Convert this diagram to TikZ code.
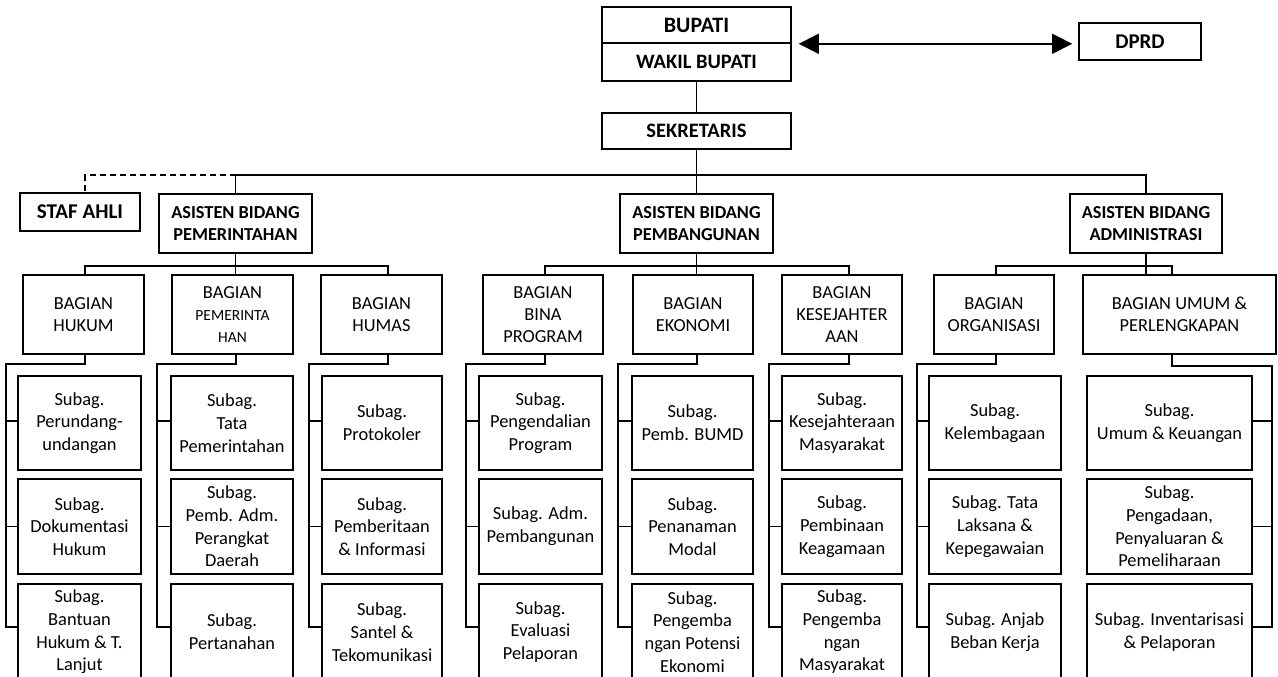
\documentclass[tikz,border=0pt]{standalone}
\usepackage{fontspec}
\setmainfont{Carlito}
\usetikzlibrary{arrows.meta}
\tikzset{
  ln/.style={line width=1.6pt},
  box/.style={draw, line width=1.6pt, inner sep=0pt, align=center},
  topbox/.style={box, font=\bfseries\fontsize{20.5}{24}\selectfont},
  asis/.style={box, font=\bfseries\fontsize{18.3}{21.7}\selectfont, minimum width=153pt, minimum height=59pt},
  bag/.style={box, font=\fontsize{18.4}{22}\selectfont, minimum height=79pt},
  sub/.style={box, font=\fontsize{18.4}{22.7}\selectfont},
  sz/.style 2 args={minimum width=#1pt, minimum height=#2pt},
  dsh/.style={ln, dash pattern=on 6pt off 4pt},
  tri/.style={ln, {Triangle[length=20pt,width=20pt]}-{Triangle[length=20pt,width=20pt]}},
}
\newcommand{\mycolconn}[4]{%
  \draw[ln] ([xshift=#2]#1.south) -- ++(0,9) -| ([xshift=#4,yshift=5pt]#3c.west) -- ([yshift=5pt]#3c.west);
  \draw[ln] ([yshift=2pt]#3a.west) -- ++(#4,0);
  \draw[ln] (#3b.west) -- ++(#4,0);
}
\begin{document}
\begin{tikzpicture}[x=1pt,y=-1pt]
\useasboundingbox (0,0) rectangle (1278,677);
\clip (0,0) rectangle (1278,677);

% top level
\node[topbox, sz={189}{36}, font=\bfseries\fontsize{22}{26}\selectfont] (bupati) at (696.5,25) {BUPATI};
\node[topbox, sz={189}{38}] (wakil) at (696.5,62) {WAKIL BUPATI};
\node[topbox, sz={122}{37}, font=\bfseries\fontsize{21}{25}\selectfont] (dprd) at (1140,41.5) {DPRD};
\node[topbox, sz={189}{36}] (sek) at (696.5,131) {SEKRETARIS};
\node[topbox, sz={120}{38}, font=\bfseries\fontsize{21}{25}\selectfont] (staf) at (80,212) {STAF AHLI};

\node[asis] (asp) at (235.5,223.5) {ASISTEN BIDANG\\PEMERINTAHAN};
\node[asis] (asb) at (696.5,223.5) {ASISTEN BIDANG\\PEMBANGUNAN};
\node[asis, minimum width=152pt] (asa) at (1146,223.5) {ASISTEN BIDANG\\ADMINISTRASI};

% bagian
\node[bag, minimum width=121pt] (bh) at (83.5,314.5) {BAGIAN\\HUKUM};
\node[bag, minimum width=121pt] (bp) at (232.5,314.5) {BAGIAN\\{\fontsize{15.5}{19.5}\selectfont PEMERINTA}\\{\fontsize{15.5}{19.5}\selectfont HAN}};
\node[bag, minimum width=121pt] (bhm) at (381.5,314.5) {BAGIAN\\HUMAS};
\node[bag, minimum width=120pt] (bb) at (543,314.5) {BAGIAN\\BINA\\PROGRAM};
\node[bag, minimum width=120pt] (be) at (693,314.5) {BAGIAN\\EKONOMI};
\node[bag, minimum width=120pt] (bk) at (842,314.5) {BAGIAN\\KESEJAHTER\\AAN};
\node[bag, minimum width=120pt] (bo) at (994,314.5) {BAGIAN\\ORGANISASI};
\node[bag, minimum width=193pt] (bu) at (1179.5,314.5) {BAGIAN UMUM \&\\PERLENGKAPAN};

% subag column 1
\node[sub, sz={123}{94}] (c1a) at (79.5,423) {Subag.\\Perundang-\\undangan};
\node[sub, sz={123}{95}] (c1b) at (79.5,526.5) {Subag.\\Dokumentasi\\Hukum};
\node[sub, sz={123}{96}] (c1c) at (79.5,632) {Subag.\\Bantuan\\Hukum \& T.\\Lanjut};
% column 2
\node[sub, sz={122}{94}] (c2a) at (232,423) {Subag.\\Tata\\Pemerintahan};
\node[sub, sz={122}{95}] (c2b) at (232,526.5) {Subag.\\Pemb. Adm.\\Perangkat\\Daerah};
\node[sub, sz={122}{96}] (c2c) at (232,632) {Subag.\\Pertanahan};
% column 3
\node[sub, sz={120}{94}] (c3a) at (382,423) {Subag.\\Protokoler};
\node[sub, sz={120}{95}] (c3b) at (382,526.5) {Subag.\\Pemberitaan\\\& Informasi};
\node[sub, sz={120}{96}] (c3c) at (382,632) {Subag.\\Santel \&\\Tekomunikasi};
% column 4
\node[sub, sz={123}{94}] (c4a) at (540.5,423) {Subag.\\Pengendalian\\Program};
\node[sub, sz={123}{95}] (c4b) at (540.5,526.5) {Subag. Adm.\\Pembangunan};
\node[sub, sz={123}{96}] (c4c) at (540.5,632) {Subag.\\Evaluasi\\Pelaporan};
% column 5
\node[sub, sz={121}{94}] (c5a) at (692.5,423) {Subag.\\Pemb. BUMD};
\node[sub, sz={121}{95}] (c5b) at (692.5,526.5) {Subag.\\Penanaman\\Modal};
\node[sub, sz={121}{96}] (c5c) at (692.5,632) {Subag.\\Pengemba\\ngan Potensi\\Ekonomi};
% column 6
\node[sub, sz={120}{94}] (c6a) at (842,423) {Subag.\\Kesejahteraan\\Masyarakat};
\node[sub, sz={120}{95}] (c6b) at (842,526.5) {Subag.\\Pembinaan\\Keagamaan};
\node[sub, sz={120}{96}] (c6c) at (842,632) {Subag.\\Pengemba\\ngan\\Masyarakat};
% column 7
\node[sub, sz={132}{94}] (c7a) at (995,423) {Subag.\\Kelembagaan};
\node[sub, sz={132}{95}] (c7b) at (995,526.5) {Subag. Tata\\Laksana \&\\Kepegawaian};
\node[sub, sz={132}{96}] (c7c) at (995,632) {Subag. Anjab\\Beban Kerja};
% column 8
\node[sub, sz={165}{94}] (c8a) at (1169.5,423) {Subag.\\Umum \& Keuangan};
\node[sub, sz={165}{95}] (c8b) at (1169.5,526.5) {Subag.\\Pengadaan,\\Penyaluaran \&\\Pemeliharaan};
\node[sub, sz={165}{96}] (c8c) at (1169.5,632) {Subag. Inventarisasi\\\& Pelaporan};

% top connectors
\draw[tri] ([xshift=7pt]bupati.south east) -- ([xshift=-6pt]dprd.west |- bupati.south east);
\draw[ln] (wakil.south) -- (sek.north);
\draw[ln] (sek.south) -- (asb.north);
\draw[ln] (asp.north) -- ++(0,-18) -| (asa.north);
\draw[dsh] ([yshift=18pt]asp.north) -| ([xshift=5pt]staf.north);

% asisten to bagian
\draw[ln] ([xshift=1.5pt]bh.north) -- ++(0,-8) -| ([xshift=6.5pt]bhm.north);
\draw[ln] (asp.south) -- (asp.south |- bp.north);
\draw[ln] ([xshift=2pt]bb.north) -- ++(0,-8) -| ([xshift=7pt]bk.north);
\draw[ln] (asb.south) -- (asb.south |- be.north);
\draw[ln] ([xshift=2pt]bo.north) -- ++(0,-8) -| ([xshift=-7.5pt]bu.north);
\draw[ln] (asa.south) -- (asa.south |- bu.north);

% bagian to subag
\mycolconn{bh}{1.5pt}{c1}{-11pt}
\mycolconn{bp}{3.5pt}{c2}{-13pt}
\mycolconn{bhm}{6.5pt}{c3}{-12pt}
\mycolconn{bb}{2pt}{c4}{-12pt}
\mycolconn{be}{4pt}{c5}{-13pt}
\mycolconn{bk}{7pt}{c6}{-12pt}
\mycolconn{bo}{2pt}{c7}{-11pt}
\draw[ln] ([xshift=-7.5pt]bu.south) -- ++(0,11) -| ([xshift=19pt,yshift=5pt]c8c.east) -- ([yshift=5pt]c8c.east);
\draw[ln] ([yshift=2pt]c8a.east) -- ++(19pt,0);
\draw[ln] (c8b.east) -- ++(19pt,0);
\end{tikzpicture}
\end{document}
